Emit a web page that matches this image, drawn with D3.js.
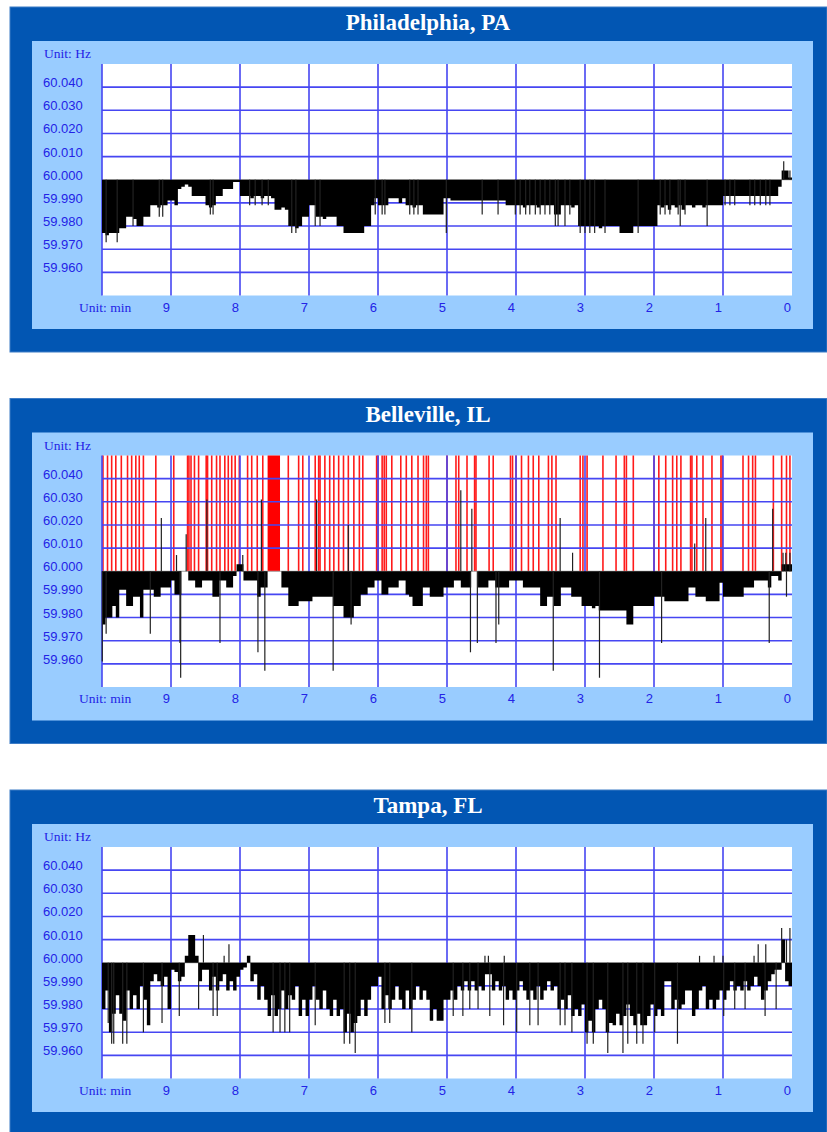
<!DOCTYPE html>
<html>
<head>
<meta charset="utf-8">
<script src="https://cdnjs.cloudflare.com/ajax/libs/d3/7.8.5/d3.min.js"></script>
<style>
body { margin: 0; background: #ffffff; }
</style>
</head>
<body>
<div id="drawing-area" style="width:827px;height:1132px;"></div>
<script>

// station names, one panel each
var titles = ["Philadelphia, PA", "Belleville, IL", "Tampa, FL"];
var yTicks = [60.040, 60.030, 60.020, 60.010, 60.000, 59.990, 59.980, 59.970, 59.960];
var xTicks = [9, 8, 7, 6, 5, 4, 3, 2, 1, 0];
var sampleSec = 3;   // one value every 3 s, from 10 min ago to now

// deviation from 60 Hz in mHz
var phlDev = [
    -23,-24,-23,-23,-23,-21,-21,-16,-16,-17,
    -20,-20,-16,-16,-11,-11,-12,-11,-11,-9,
    -9,-11,-4,-3,-2,-3,-7,-7,-7,-7,
    -11,-12,-11,-7,-7,-4,-4,-4,-1,-1,
    -7,-7,-7,-8,-7,-7,-8,-7,-7,-8,
    -13,-13,-12,-13,-20,-20,-21,-20,-16,-16,
    -11,-11,-16,-16,-17,-16,-16,-16,-20,-20,
    -23,-23,-23,-23,-23,-23,-20,-20,-11,-8,
    -11,-11,-11,-8,-8,-8,-10,-8,-11,-11,
    -12,-11,-11,-15,-15,-15,-15,-15,-15,-8,
    -8,-9,-9,-9,-9,-9,-9,-9,-9,-9,
    -9,-9,-9,-9,-9,-9,-9,-11,-11,-11,
    -11,-11,-12,-11,-11,-11,-12,-11,-11,-11,
    -11,-15,-15,-11,-11,-11,-12,-11,-20,-20,
    -20,-20,-20,-20,-21,-20,-20,-20,-20,-20,
    -23,-23,-23,-23,-20,-20,-20,-20,-20,-20,
    -20,-11,-12,-11,-13,-11,-12,-11,-13,-11,
    -11,-12,-11,-11,-12,-11,-11,-11,-11,-11,
    -7,-7,-7,-7,-7,-7,-7,-7,-7,-7,
    -7,-7,-7,-7,-7,-7,-3,4,4,1
];
var belDev = [
    -23,-20,-20,-15,-20,-8,-8,-15,-15,-11,
    -11,-20,-8,-8,-8,-11,-11,-7,-7,-7,
    -4,-10,-10,0,0,-4,-4,-7,-7,-4,
    -4,-4,-11,-11,-4,-4,-7,-7,-2,3,
    3,-4,-4,-4,-4,-11,-7,-7,0,0,
    0,0,-7,-7,-15,-15,-15,-13,-13,-13,
    -13,-11,-11,-11,-11,-11,-11,-15,-15,-15,
    -20,-20,-20,-15,-15,-10,-10,-7,-7,-4,
    -4,-10,-10,-7,-7,-7,-4,-4,-10,-11,
    -15,-15,-15,-7,-7,-11,-11,-11,-11,-7,
    -7,-7,-4,-4,-7,-7,-7,0,0,-7,
    -7,-7,-4,-4,-7,-7,-7,-7,-4,-4,
    -4,-4,-7,-7,-7,-7,-7,-15,-15,-11,
    -11,-15,-15,-7,-7,-7,-11,-11,-11,-15,
    -15,-15,-16,-15,-17,-17,-17,-17,-17,-17,
    -17,-17,-23,-23,-15,-15,-15,-15,-15,-15,
    -11,-11,-11,-13,-13,-13,-13,-13,-13,-13,
    -7,-7,-11,-11,-11,-13,-13,-13,-13,-5,
    -11,-11,-11,-11,-11,-11,-7,-7,-7,-4,
    -4,-4,-4,-7,-2,-2,-4,3,3,3
];
var tpaDev = [
    -20,-12,-30,-22,-14,-22,-25,-12,-20,-14,
    -20,-10,-16,-27,-8,-5,-8,-10,-6,-20,
    -3,-4,-8,-6,3,12,12,3,-8,-3,
    -3,-12,-6,-12,-8,-5,-12,-8,-12,-6,
    -3,-2,3,-8,-5,-16,-10,-16,-23,-14,
    -23,-20,-12,-20,-14,-16,-10,-23,-16,-23,
    -16,-10,-16,-20,-12,-20,-23,-16,-23,-20,
    -30,-22,-30,-26,-23,-16,-23,-16,-10,-10,
    -6,-20,-14,-20,-16,-10,-16,-20,-12,-20,
    -16,-10,-16,-12,-16,-25,-20,-25,-25,-16,
    -16,-12,-16,-10,-12,-8,-12,-8,-12,-10,
    -12,-5,-5,-12,-8,-12,-10,-16,-12,-16,
    -12,-8,-12,-16,-12,-16,-10,-16,-12,-8,
    -12,-10,-20,-16,-20,-14,-23,-20,-23,-18,
    -30,-25,-30,-20,-16,-20,-30,-26,-27,-22,
    -27,-23,-18,-23,-27,-22,-27,-27,-23,-18,
    -23,-20,-23,-8,-8,-20,-16,-20,-18,-12,
    -12,-23,-20,-12,-10,-20,-16,-20,-16,-12,
    -16,-12,-8,-12,-10,-12,-8,-12,-10,-6,
    -10,-16,-12,-8,-5,-3,-3,10,-8,-10
];

// single-sample spikes: [minutes ago, mHz]
var phlSpikes = [
    [9.94,-27],[9.78,-27],[9.55,-20],[9.17,-16],[9.12,-16],[8.43,-15],[8.39,-15],
    [7.86,-11],[7.78,-11],[7.68,-11],[7.59,-11],[7.25,-23],[7.19,-23],[6.91,-20],[6.84,-20],
    [6.04,-15],[5.94,-15],[5.90,-15],[5.54,-15],[5.48,-15],[5.42,-15],[5.01,-23],
    [4.49,-15],[4.26,-15],[4.01,-15],[3.94,-15],[3.86,-15],[3.80,-15],[3.72,-15],
    [3.65,-15],[3.58,-15],[3.51,-15],[3.43,-20],[3.39,-20],[3.29,-20],[3.22,-15],
    [3.07,-23],[3.00,-23],[2.93,-23],[2.86,-23],[2.71,-23],[2.23,-23],
    [1.91,-15],[1.84,-15],[1.77,-15],[1.65,-15],[1.62,-20],[1.55,-15],[1.23,-20],
    [0.97,-11],[0.90,-11],[0.83,-11],[0.61,-11],[0.54,-11],[0.46,-11],[0.38,-11],[0.32,-11],
    [0.12,8],[0.03,4]
];
var belSpikes = [
    [9.996,-39],[9.94,-27],[9.30,-27],[9.14,23],[8.92,7],[8.87,-31],[8.86,-46],[8.78,16],
    [8.48,31],[8.29,-31],[7.96,7],[7.74,-35],[7.69,31],[7.64,-43],[6.89,31],[6.65,-43],
    [6.43,20],[6.39,-23],[4.80,35],[4.66,-35],[4.64,27],[4.56,-31],[4.29,-31],[4.25,-23],
    [3.46,-43],[3.36,23],[3.18,8],[2.79,-46],[1.89,-31],[1.41,12],[1.25,23],
    [0.33,-31],[0.28,27],[0.13,8],[0.09,8],[0.03,8],[0.08,-11]
];
var tpaSpikes = [
    [9.91,-26],[9.86,-35],[9.83,-35],[9.70,-35],[9.64,-35],[9.40,-30],[9.13,-26],[8.88,-23],
    [8.60,-20],[8.53,12],[8.39,-23],[8.33,-23],[8.23,3],[8.16,8],[7.52,-30],[7.42,-30],
    [7.35,-30],[7.28,-30],[6.91,-27],[6.49,-35],[6.41,-35],[6.33,-39],[5.90,-26],[5.83,-26],
    [5.51,-30],[4.91,-23],[4.77,-23],[4.67,-20],[4.55,-20],[4.45,3],[4.40,3],[4.38,-23],
    [4.18,-27],[4.17,3],[3.99,-30],[3.80,-27],[3.68,-27],[3.36,-27],[3.29,-27],[3.19,-30],
    [2.97,-35],[2.88,-35],[2.67,-39],[2.45,-39],[2.38,-35],[2.25,-35],[2.16,-35],[1.99,-30],
    [1.66,-35],[1.34,3],[1.13,3],[1.00,3],[0.99,-23],[0.83,-20],[0.68,-20],[0.55,3],
    [0.49,8],[0.39,-23],[0.38,8],[0.23,-20],[0.15,15],[0.08,10],[0.03,15]
];

// Belleville off-scale samples (red), minutes ago
var belRed = [
    9.986,9.92,9.86,9.80,9.72,9.63,9.57,9.51,9.46,9.40,9.22,8.96,8.76,8.74,8.71,8.66,8.60,
    8.49,8.47,8.41,8.34,8.29,8.22,8.17,8.12,8.07,8.01,7.89,7.83,7.75,7.67,7.30,7.15,7.09,
    6.91,6.86,6.84,6.77,6.70,6.64,6.57,6.50,6.43,6.35,6.27,6.22,6.02,6.00,5.94,5.91,5.88,
    5.80,5.67,5.59,5.51,5.42,5.34,5.30,5.27,5.00,4.87,4.83,4.71,4.60,4.58,4.39,4.33,4.08,
    4.05,4.00,3.92,3.82,3.75,3.67,3.53,3.48,3.42,3.07,3.03,2.97,2.74,2.55,2.43,2.40,2.30,
    2.00,1.93,1.83,1.73,1.67,1.61,1.47,1.45,1.38,1.29,1.16,1.03,1.01,0.71,0.63,0.57,0.53,
    0.27,0.15,0.08,0.03
];
var belRedBlock = [7.60, 7.42];

var devs = [phlDev, belDev, tpaDev];
var spikes = [phlSpikes, belSpikes, tpaSpikes];
var reds = [[], belRed, []];
var redBlocks = [null, belRedBlock, null];


var sx = 827, sy = 1132;
var svg = d3.select('#drawing-area').append('svg').attr('width', sx).attr('height', sy);

var darkBlue = "#0256b3", lightBlue = "#99ccff";
var gridCol = "#4646f2", textCol = "#2323e6";

var x = d3.scaleLinear().domain([10, 0]).range([102, 792]);

function drawPanel(k) {
    var dy = k * 391.5;
    var g = svg.append("g");
    var top = 64 + dy, bottom = 295.5 + dy;
    var y = d3.scaleLinear().domain([59.95, 60.05]).range([bottom, top]);
    var zero = y(60);
    var dev = devs[k];
    var j;

    g.append("rect").attr("x", 10).attr("y", 7 + dy).attr("width", 817).attr("height", 345)
        .attr("fill", darkBlue).attr("stroke", "#3d7cc6").attr("stroke-width", 1);
    g.append("rect").attr("x", 32).attr("y", 41 + dy).attr("width", 781).attr("height", 288)
        .attr("fill", lightBlue);
    g.append("rect").attr("x", 102).attr("y", top).attr("width", 690).attr("height", bottom - top)
        .attr("fill", "#ffffff");

    g.append("text").attr("x", 428).attr("y", 30 + dy)
        .attr("text-anchor", "middle")
        .style("font-family", "'Liberation Serif', 'Times New Roman', serif")
        .style("font-weight", "bold").style("font-size", "23px")
        .attr("fill", "#ffffff").text(titles[k]);

    // red off-scale marks go under the grid
    var red = reds[k];
    for (j = 0; j < red.length; j++) {
        g.append("line")
            .attr("x1", x(red[j])).attr("x2", x(red[j]))
            .attr("y1", top).attr("y2", zero)
            .attr("stroke", "#ff1a1a").attr("stroke-width", 1.6);
    }
    if (redBlocks[k]) {
        var b = redBlocks[k];
        g.append("rect").attr("x", x(b[0])).attr("y", top)
            .attr("width", x(b[1]) - x(b[0])).attr("height", zero - top)
            .attr("fill", "#ff0000");
    }

    // grid
    for (j = 0; j < yTicks.length; j++) {
        g.append("line").attr("x1", 102).attr("x2", 792)
            .attr("y1", y(yTicks[j])).attr("y2", y(yTicks[j]))
            .attr("stroke", yTicks[j] == 60 ? "#a0a0a0" : gridCol)
            .attr("stroke-width", yTicks[j] == 60 ? 1 : 1.6);
    }
    var xg = [10].concat(xTicks.slice(0, -1));
    for (j = 0; j < xg.length; j++) {
        g.append("line").attr("x1", x(xg[j])).attr("x2", x(xg[j]))
            .attr("y1", top).attr("y2", bottom)
            .attr("stroke", gridCol).attr("stroke-width", 1.6);
    }

    // bars: one step area through all samples, so no seams between bars
    var step = sampleSec / 60;
    var pts = [];
    for (j = 0; j < dev.length; j++) {
        pts.push({ t: 10 - j * step, v: dev[j] });
    }
    pts.push({ t: 0, v: dev[dev.length - 1] });
    var area = d3.area()
        .curve(d3.curveStepAfter)
        .x(function (d) { return x(d.t); })
        .y0(zero)
        .y1(function (d) { return y(60 + d.v / 1000); });
    g.append("path").attr("d", area(pts)).attr("fill", "#000000");

    var sp = spikes[k];
    for (j = 0; j < sp.length; j++) {
        g.append("line")
            .attr("x1", x(sp[j][0])).attr("x2", x(sp[j][0]))
            .attr("y1", zero).attr("y2", y(60 + sp[j][1] / 1000))
            .attr("stroke", "#222222").attr("stroke-width", 1.2);
    }

    // labels
    g.append("text").attr("x", 44).attr("y", 58 + dy)
        .style("font-family", "'Liberation Serif', 'Times New Roman', serif")
        .style("font-size", "13.5px").attr("fill", textCol).text("Unit: Hz");
    for (j = 0; j < yTicks.length; j++) {
        g.append("text").attr("x", 43).attr("y", y(yTicks[j]))
            .style("font-family", "'Liberation Sans', Arial, sans-serif")
            .style("font-size", "13px").attr("fill", textCol)
            .text(d3.format(".3f")(yTicks[j]));
    }
    g.append("text").attr("x", 79).attr("y", 311.5 + dy)
        .style("font-family", "'Liberation Serif', 'Times New Roman', serif")
        .style("font-size", "13.5px").attr("fill", textCol).text("Unit: min");
    for (j = 0; j < xTicks.length; j++) {
        g.append("text").attr("x", x(xTicks[j]) - 1).attr("y", 311.5 + dy)
            .attr("text-anchor", "end")
            .style("font-family", "'Liberation Sans', Arial, sans-serif")
            .style("font-size", "13px").attr("fill", textCol)
            .text(xTicks[j]);
    }
}

for (var k = 0; k < 3; k++) drawPanel(k);

</script>
</body>
</html>
